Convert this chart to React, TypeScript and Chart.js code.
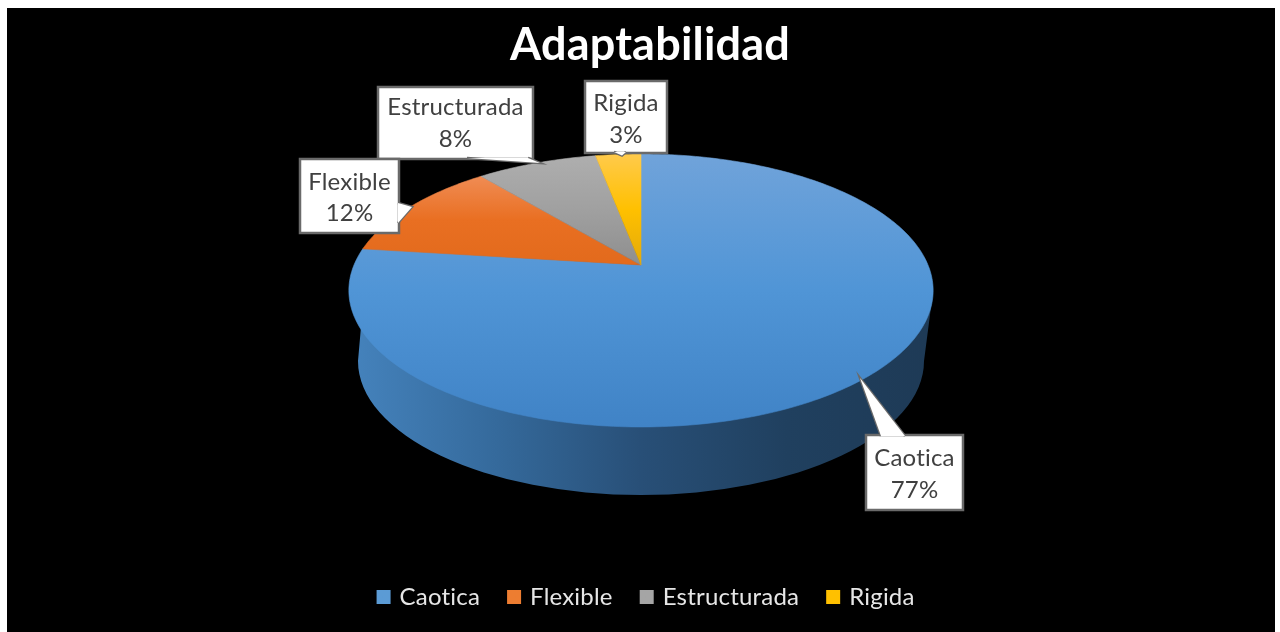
import React, { useEffect, useRef } from "react";
import { Chart, registerables } from "chart.js";

Chart.register(...registerables);

const chartTitle = "Adaptabilidad";
const categories = ["Caotica", "Flexible", "Estructurada", "Rigida"];
const shares = [77, 12, 8, 3];
const baseColors = ["#5b9bd5", "#ed7d31", "#a5a5a5", "#ffc000"];

const FONT = "Lato, 'Open Sans', sans-serif";
const W = 1268;
const H = 624;

// page offset of the canvas
const OX = 7;
const OY = 8;

// perspective of the pie's top face
const APEX_Y = 265 - OY;
const K = 0.1868;
const SX = 287;
const SY = 131.7;
const DEPTH_CY = 361 - OY;
const DEPTH_RX = 283;
const DEPTH_RY = 134;

const topStops: string[][] = [
  ["#70a3da", "#5095d6", "#4083c6"],
  ["#f08c54", "#e96f22", "#e26a1c"],
  ["#adadad", "#a0a0a0", "#8e8e8e"],
  ["#ffca4a", "#ffc000", "#e3a90a"],
];
const sliceRanges = [
  [154, 290, 427],
  [176, 220, 266],
  [160, 210, 266],
  [155, 210, 266],
];

// callout boxes, page pixels; label is the category index
const callouts = [
  { label: 0, box: [866, 435, 963, 510], ptr: [[881, 436], [860, 378], [905, 436]], lines: [458, 490], cx: 914.5 },
  { label: 3, box: [585, 81, 667, 153], ptr: [[614, 152], [622, 155.5], [626, 152]], lines: [103, 135], cx: 626 },
  { label: 2, box: [378, 87, 533, 159], ptr: [[467, 158], [540, 163], [528, 158]], lines: [107, 139], cx: 455.5 },
  { label: 1, box: [300, 159, 399, 233], ptr: [[398, 203], [412, 207], [398, 223]], lines: [182, 213], cx: 349.5 },
];

const piePlugin = {
  id: "perspectivePie",
  afterLayout(chart: any) {
    // the reference title and legend sit slightly right of the pie's centre, legend higher
    chart.titleBlock.left += 18;
    chart.legend.left += 3;
    chart.legend.right += 3;
    chart.legend.top -= 13;
    chart.legend.bottom -= 13;
  },
  beforeDraw(chart: any) {
    // keeps Lato from joining "ti" into a ligature
    chart.ctx.letterSpacing = "0.2px";
  },
  beforeDatasetDraw(chart: any, args: any) {
    const ctx: CanvasRenderingContext2D = chart.ctx;
    const arcs = chart.getDatasetMeta(args.index).data;
    const cx = arcs[0].x;
    const project = (a: number): [number, number] => {
      const u = Math.cos(a);
      const v = Math.sin(a);
      const d = 1 - K * v;
      return [cx + (SX * u) / d, APEX_Y + (SY * v) / d];
    };

    // rim
    const side = ctx.createLinearGradient(cx - 292, 0, cx + 292, 0);
    side.addColorStop(0, "#4583bd");
    side.addColorStop(0.25, "#356a9c");
    side.addColorStop(0.5, "#284f77");
    side.addColorStop(0.75, "#20405f");
    side.addColorStop(1, "#1e3a56");
    ctx.save();
    ctx.fillStyle = side;
    ctx.beginPath();
    ctx.ellipse(cx, DEPTH_CY, DEPTH_RX, DEPTH_RY, 0, 0, Math.PI);
    const [tx1, ty1] = project(Math.asin(K) - Math.PI);
    const [tx0, ty0] = project(Math.asin(K));
    ctx.lineTo(tx1, ty1);
    ctx.lineTo(tx0, ty0);
    ctx.closePath();
    ctx.fill();

    // top face, one wedge per arc element
    arcs.forEach((arc: any, i: number) => {
      const [y0, y1, y2] = sliceRanges[i].map((y) => y - OY);
      const g = ctx.createLinearGradient(0, y0, 0, y2);
      g.addColorStop(0, topStops[i][0]);
      g.addColorStop((y1 - y0) / (y2 - y0), topStops[i][1]);
      g.addColorStop(1, topStops[i][2]);
      ctx.fillStyle = g;
      ctx.strokeStyle = g;
      ctx.lineWidth = 0.6;
      ctx.beginPath();
      ctx.moveTo(cx, APEX_Y);
      const steps = Math.ceil(((arc.endAngle - arc.startAngle) / Math.PI) * 180);
      for (let s = 0; s <= steps; s++) {
        const [x, y] = project(arc.startAngle + ((arc.endAngle - arc.startAngle) * s) / steps);
        ctx.lineTo(x, y);
      }
      ctx.closePath();
      ctx.fill();
      ctx.stroke();
    });

    // data label callouts
    const total = shares.reduce((a, b) => a + b, 0);
    callouts.forEach((c) => {
      const [x0, y0, x1, y1] = c.box.map((v, n) => v - (n % 2 ? OY : OX));
      ctx.fillStyle = "#ffffff";
      ctx.strokeStyle = "#6a6a6a";
      ctx.lineWidth = 2.5;
      ctx.lineJoin = "miter";
      ctx.beginPath();
      ctx.rect(x0, y0, x1 - x0, y1 - y0);
      ctx.fill();
      ctx.stroke();
      const trace = () => {
        ctx.beginPath();
        c.ptr.forEach(([px, py], n) => {
          if (n === 0) ctx.moveTo(px - OX, py - OY);
          else ctx.lineTo(px - OX, py - OY);
        });
      };
      trace();
      ctx.stroke();
      trace();
      ctx.closePath();
      ctx.fill();
      ctx.fillStyle = "#404040";
      ctx.font = `24px ${FONT}`;
      ctx.textAlign = "center";
      ctx.textBaseline = "middle";
      const pct = Math.round((shares[c.label] / total) * 100);
      ctx.fillText(categories[c.label], c.cx - OX, c.lines[0] - OY);
      ctx.fillText(`${pct}%`, c.cx - OX, c.lines[1] - OY);
    });
    ctx.restore();
    return false;
  },
};

export default function App() {
  const ref = useRef<HTMLCanvasElement>(null);
  useEffect(() => {
    const chart = new Chart(ref.current!, {
      type: "pie",
      data: {
        labels: categories,
        datasets: [{ data: shares, backgroundColor: baseColors, borderColor: baseColors, borderWidth: 6 }],
      },
      options: {
        animation: false,
        responsive: false,
        plugins: {
          title: {
            display: true,
            text: chartTitle,
            color: "#ffffff",
            font: { family: FONT, size: 45, weight: "bold" },
            padding: { top: 10, bottom: 8 },
          },
          legend: {
            position: "bottom",
            labels: {
              color: "#e6e6e6",
              font: { family: FONT, size: 24 },
              boxWidth: 8,
              boxHeight: 8,
              padding: 30,
            },
          },
          tooltip: { enabled: false },
        },
      },
      plugins: [piePlugin],
    });
    return () => chart.destroy();
  }, []);
  return (
    <div style={{ position: "absolute", left: OX, top: OY, width: W, height: H, background: "#000" }}>
      <canvas ref={ref} width={W} height={H} style={{ display: "block" }} />
    </div>
  );
}
